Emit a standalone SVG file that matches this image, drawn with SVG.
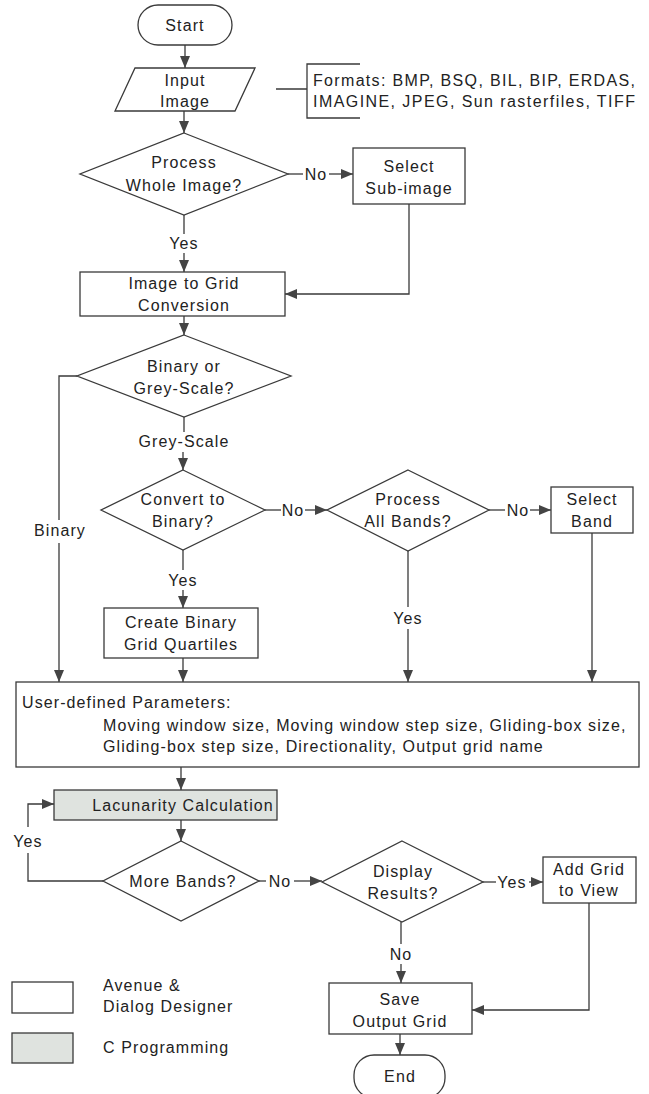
<svg xmlns="http://www.w3.org/2000/svg" width="649" height="1094" viewBox="0 0 649 1094">
<style>
.t{font-family:"Liberation Sans",Arial,sans-serif;font-size:16px;letter-spacing:1.1px;fill:#222}
.m{text-anchor:middle}
.s{fill:#fff;stroke:#3a3a3a;stroke-width:1.3}
.g{fill:#dfe3df;stroke:#3a3a3a;stroke-width:1.3}
.c{fill:none;stroke:#3a3a3a;stroke-width:1.3}
</style>
<defs>
<marker id="ah" markerWidth="12" markerHeight="10" refX="12" refY="5" orient="auto" markerUnits="userSpaceOnUse">
<path d="M0,0 L12,5 L0,10 z" fill="#444"/>
</marker>
</defs>
<rect width="649" height="1094" fill="#fff"/>

<g id="connectors">
<line class="c" x1="185" y1="45" x2="185" y2="68" marker-end="url(#ah)"/>
<line class="c" x1="184" y1="111" x2="184" y2="133" marker-end="url(#ah)"/>
<path class="c" d="M276,89 H307 M360,64 H307 V118 H360"/>
<line class="c" x1="288" y1="174" x2="303" y2="174"/>
<text class="t m" x="316" y="180">No</text>
<line class="c" x1="329" y1="174" x2="353" y2="174" marker-end="url(#ah)"/>
<line class="c" x1="184" y1="215" x2="184" y2="234"/>
<text class="t m" x="184" y="249">Yes</text>
<line class="c" x1="184" y1="253" x2="184" y2="272" marker-end="url(#ah)"/>
<path class="c" d="M409,204 V294 H285" marker-end="url(#ah)"/>
<line class="c" x1="184" y1="316" x2="184" y2="335" marker-end="url(#ah)"/>
<path class="c" d="M77,376 H59 V520"/>
<text class="t m" x="60" y="536">Binary</text>
<line class="c" x1="59" y1="543" x2="59" y2="682" marker-end="url(#ah)"/>
<line class="c" x1="184" y1="417" x2="184" y2="432"/>
<text class="t m" x="184" y="447">Grey-Scale</text>
<line class="c" x1="183" y1="452" x2="183" y2="470" marker-end="url(#ah)"/>
<line class="c" x1="265" y1="510" x2="281" y2="510"/>
<text class="t m" x="293" y="516">No</text>
<line class="c" x1="305" y1="510" x2="327" y2="510" marker-end="url(#ah)"/>
<line class="c" x1="489" y1="510" x2="505" y2="510"/>
<text class="t m" x="518" y="516">No</text>
<line class="c" x1="530" y1="510" x2="551" y2="510" marker-end="url(#ah)"/>
<line class="c" x1="183" y1="550" x2="183" y2="570"/>
<text class="t m" x="183" y="586">Yes</text>
<line class="c" x1="183" y1="590" x2="183" y2="608" marker-end="url(#ah)"/>
<line class="c" x1="408" y1="551" x2="408" y2="607"/>
<text class="t m" x="408" y="624">Yes</text>
<line class="c" x1="408" y1="629" x2="408" y2="682" marker-end="url(#ah)"/>
<line class="c" x1="592" y1="533" x2="592" y2="682" marker-end="url(#ah)"/>
<line class="c" x1="183" y1="658" x2="183" y2="682" marker-end="url(#ah)"/>
<line class="c" x1="181" y1="767" x2="181" y2="790" marker-end="url(#ah)"/>
<line class="c" x1="181" y1="820" x2="181" y2="841" marker-end="url(#ah)"/>
<path class="c" d="M103,881 H28 V853"/>
<text class="t m" x="28" y="847">Yes</text>
<path class="c" d="M28,827 V804 H54" marker-end="url(#ah)"/>
<line class="c" x1="259" y1="881" x2="266" y2="881"/>
<text class="t m" x="280" y="887">No</text>
<line class="c" x1="294" y1="881" x2="322" y2="881" marker-end="url(#ah)"/>
<line class="c" x1="483" y1="882" x2="496" y2="882"/>
<text class="t m" x="512" y="888">Yes</text>
<line class="c" x1="529" y1="882" x2="543" y2="882" marker-end="url(#ah)"/>
<line class="c" x1="401" y1="922" x2="401" y2="944"/>
<text class="t m" x="401" y="960">No</text>
<line class="c" x1="401" y1="964" x2="401" y2="983" marker-end="url(#ah)"/>
<path class="c" d="M589,903 V1010 H472" marker-end="url(#ah)"/>
<line class="c" x1="400" y1="1034" x2="400" y2="1055" marker-end="url(#ah)"/>
</g>

<g id="start">
<rect class="s" x="138" y="5" width="94" height="40" rx="20"/>
<text class="t m" x="185" y="31">Start</text>
</g>
<g id="input">
<polygon class="s" points="135,68 255,68 235,111 115,111"/>
<text class="t m" x="185" y="86">Input</text>
<text class="t m" x="185" y="107">Image</text>
</g>
<g id="formats">
<text class="t" x="313" y="86" textLength="323" lengthAdjust="spacing">Formats: BMP, BSQ, BIL, BIP, ERDAS,</text>
<text class="t" x="313" y="107" textLength="323" lengthAdjust="spacing">IMAGINE, JPEG, Sun rasterfiles, TIFF</text>
</g>
<g id="process-whole">
<polygon class="s" points="184,133 288,174 184,215 80,174"/>
<text class="t m" x="184" y="168">Process</text>
<text class="t m" x="184" y="191">Whole Image?</text>
</g>
<g id="select-sub">
<rect class="s" x="353" y="148" width="112" height="56"/>
<text class="t m" x="409" y="172">Select</text>
<text class="t m" x="409" y="194">Sub-image</text>
</g>
<g id="image-to-grid">
<rect class="s" x="80" y="272" width="205" height="44"/>
<text class="t m" x="184" y="289">Image to Grid</text>
<text class="t m" x="184" y="311">Conversion</text>
</g>
<g id="binary-grey">
<polygon class="s" points="184,335 291,376 184,417 77,376"/>
<text class="t m" x="184" y="372">Binary or</text>
<text class="t m" x="184" y="394">Grey-Scale?</text>
</g>
<g id="convert-binary">
<polygon class="s" points="183,470 265,510 183,550 101,510"/>
<text class="t m" x="183" y="505">Convert to</text>
<text class="t m" x="183" y="527">Binary?</text>
</g>
<g id="process-all">
<polygon class="s" points="408,470 489,510 408,551 327,510"/>
<text class="t m" x="408" y="505">Process</text>
<text class="t m" x="408" y="527">All Bands?</text>
</g>
<g id="select-band">
<rect class="s" x="551" y="487" width="82" height="46"/>
<text class="t m" x="592" y="505">Select</text>
<text class="t m" x="592" y="527">Band</text>
</g>
<g id="create-binary">
<rect class="s" x="104" y="608" width="154" height="50"/>
<text class="t m" x="181" y="628">Create Binary</text>
<text class="t m" x="181" y="650">Grid Quartiles</text>
</g>
<g id="user-params">
<rect class="s" x="16" y="682" width="623" height="85"/>
<text class="t" x="22" y="708">User-defined Parameters:</text>
<text class="t" x="103" y="731">Moving window size, Moving window step size, Gliding-box size,</text>
<text class="t" x="103" y="752">Gliding-box step size, Directionality, Output grid name</text>
</g>
<g id="lacunarity">
<rect class="g" x="54" y="790" width="223" height="30"/>
<text class="t m" x="183" y="811">Lacunarity Calculation</text>
</g>
<g id="more-bands">
<polygon class="s" points="181,841 259,881 181,921 103,881"/>
<text class="t m" x="183" y="887">More Bands?</text>
</g>
<g id="display-results">
<polygon class="s" points="402,841 483,882 402,922 322,882"/>
<text class="t m" x="403" y="877">Display</text>
<text class="t m" x="403" y="899">Results?</text>
</g>
<g id="add-grid">
<rect class="s" x="543" y="857" width="93" height="46"/>
<text class="t m" x="589" y="875">Add Grid</text>
<text class="t m" x="589" y="896">to View</text>
</g>
<g id="save-grid">
<rect class="s" x="329" y="983" width="143" height="51"/>
<text class="t m" x="400" y="1005">Save</text>
<text class="t m" x="400" y="1027">Output Grid</text>
</g>
<g id="end">
<rect class="s" x="354" y="1055" width="91" height="43" rx="20"/>
<text class="t m" x="400" y="1082">End</text>
</g>
<g id="legend">
<rect class="s" x="12" y="982" width="61" height="31"/>
<text class="t" x="103" y="991">Avenue &amp;</text>
<text class="t" x="103" y="1012">Dialog Designer</text>
<rect class="g" x="12" y="1033" width="61" height="30"/>
<text class="t" x="103" y="1053">C Programming</text>
</g>
</svg>
